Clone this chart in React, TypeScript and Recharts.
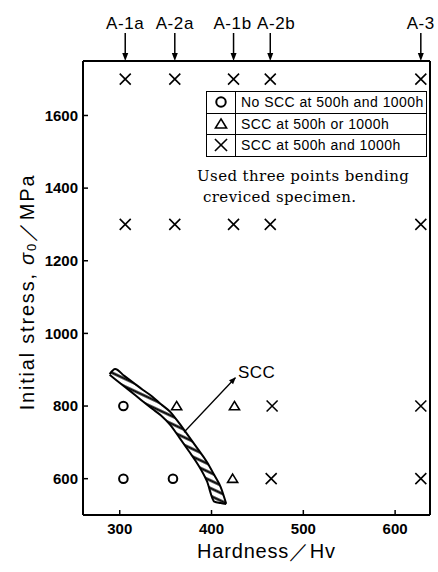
import React from "react";
import {
  ComposedChart,
  Area,
  Line,
  Scatter,
  XAxis,
  YAxis,
  Legend,
} from "recharts";

const W = 438;
const H = 572;
const INK = "#000";
const SANS = "'Liberation Sans', Arial, Helvetica, sans-serif";
const SERIF = "'DejaVu Serif', 'Liberation Serif', serif";

// specimens marked along the top edge
const SAMPLES = ["A-1a", "A-2a", "A-1b", "A-2b", "A-3"];
const SAMPLE_HV = [306, 360, 424, 464, 628];

const X_TICKS = [300, 400, 500, 600];
const Y_TICKS = [600, 800, 1000, 1200, 1400, 1600];
const X_DOMAIN = [260, 638];
const Y_DOMAIN = [500, 1750];

// test results: hardness (Hv) vs initial stress (MPa)
const NO_SCC = [
  { hv: 304, stress: 800 },
  { hv: 304, stress: 600 },
  { hv: 358, stress: 600 },
];
const SCC_ONE = [
  { hv: 362, stress: 800 },
  { hv: 425, stress: 800 },
  { hv: 423, stress: 600 },
];
const SCC_BOTH = [
  { hv: 306, stress: 1700 },
  { hv: 360, stress: 1700 },
  { hv: 424, stress: 1700 },
  { hv: 464, stress: 1700 },
  { hv: 628, stress: 1700 },
  { hv: 306, stress: 1300 },
  { hv: 360, stress: 1300 },
  { hv: 424, stress: 1300 },
  { hv: 464, stress: 1300 },
  { hv: 628, stress: 1300 },
  { hv: 466, stress: 800 },
  { hv: 628, stress: 800 },
  { hv: 465, stress: 600 },
  { hv: 628, stress: 600 },
];

// hatched SCC boundary band: lower / upper edge at each hardness
const BAND_HV = [289, 295, 305, 315, 325, 335, 345, 355, 365, 375, 385, 395, 403, 410, 416];
const BAND_LOW = [886, 874, 854, 834, 813, 793, 774, 748, 713, 677, 640, 593, 537, 533, 530];
const BAND_HIGH = [888, 902, 883, 864, 845, 827, 805, 784, 752, 717, 682, 646, 610, 577, 531];
const band = BAND_HV.map((hv, i) => ({ hv, band: [BAND_LOW[i], BAND_HIGH[i]] }));

const SCC_ARROW = [
  { hv: 370, stress: 728 },
  { hv: 426, stress: 878 },
];

const SERIES = [
  { name: "No SCC at 500h and 1000h", kind: "circle", data: NO_SCC },
  { name: "SCC at 500h or 1000h", kind: "triangle", data: SCC_ONE },
  { name: "SCC at 500h and 1000h", kind: "cross", data: SCC_BOTH },
];

function Marker({ kind, cx, cy, s = 1 }: { kind: string; cx: number; cy: number; s?: number }) {
  if (kind === "circle")
    return <circle cx={cx} cy={cy} r={4.3 * s} fill="#fff" stroke={INK} strokeWidth={2} />;
  if (kind === "triangle") {
    const h = 4.6 * s;
    return (
      <path
        d={`M${cx},${cy - h} L${cx + h * 1.1},${cy + h * 0.8} L${cx - h * 1.1},${cy + h * 0.8} Z`}
        fill="#fff"
        stroke={INK}
        strokeWidth={1.6}
      />
    );
  }
  const r = 5.5 * s;
  return (
    <path
      d={`M${cx - r},${cy - r} L${cx + r},${cy + r} M${cx + r},${cy - r} L${cx - r},${cy + r}`}
      stroke={INK}
      strokeWidth={1.6}
      fill="none"
    />
  );
}

function SampleTick({ x, y, payload }: any) {
  const i = SAMPLE_HV.indexOf(payload.value);
  const name = SAMPLES[i];
  // the A-2b caption sits a little right of its arrow in the original
  const dx = name === "A-2b" ? 6 : name === "A-1b" ? -1 : 0;
  return (
    <g>
      <text
        x={x + dx}
        y={y - 32}
        textAnchor="middle"
        fontSize={17}
        fontFamily={SANS}
        letterSpacing={0.6}
        fill={INK}
      >
        {name}
      </text>
      <line x1={x} y1={y - 28} x2={x} y2={y - 6} stroke={INK} strokeWidth={1.5} />
      <path d={`M${x - 3},${y - 8} L${x + 3},${y - 8} L${x},${y} Z`} fill={INK} />
    </g>
  );
}

function StressLabel({ viewBox }: any) {
  const vb = viewBox ?? { x: 0, y: 61, width: 83, height: 454 };
  const cx = vb.x + 27;
  const cy = vb.y + vb.height / 2 + 4;
  return (
    <text
      x={cx}
      y={cy}
      transform={`rotate(-90 ${cx} ${cy})`}
      textAnchor="middle"
      dominantBaseline="central"
      fontSize={20}
      fontFamily={SANS}
      letterSpacing={1.8}
      fill={INK}
    >
      Initial stress, <tspan fontStyle="italic">σ</tspan>
      <tspan dy={4} fontSize={13}>0</tspan>
      <tspan dy={-4}>／MPa</tspan>
    </text>
  );
}

function HardnessLabel({ viewBox }: any) {
  const vb = viewBox ?? { x: 83, y: 515, width: 347, height: 57 };
  return (
    <text
      x={vb.x + vb.width / 2 + 10}
      y={vb.y + 43}
      textAnchor="middle"
      fontSize={20}
      fontFamily={SANS}
      letterSpacing={0.8}
      fill={INK}
    >
      Hardness／Hv
    </text>
  );
}

function LegendBox({ payload }: any) {
  const rows = SERIES.filter((s) => (payload ?? []).some((p: any) => p.value === s.name));
  const list = rows.length ? rows : SERIES;
  return (
    <div
      style={{
        border: "1.5px solid #000",
        background: "#fff",
        fontFamily: SANS,
        fontSize: 14,
        color: INK,
        width: 219,
      }}
    >
      {list.map((s, i) => (
        <div
          key={s.name}
          style={{
            display: "flex",
            height: 20.5,
            borderTop: i ? "1px solid #000" : "none",
          }}
        >
          <div
            style={{
              width: 28,
              borderRight: "1px solid #000",
              display: "flex",
              alignItems: "center",
              justifyContent: "center",
            }}
          >
            <svg width={16} height={16}>
              <Marker kind={s.kind} cx={8} cy={8} s={1.1} />
            </svg>
          </div>
          <div style={{ paddingLeft: 5, lineHeight: "20.5px", letterSpacing: 0.45, whiteSpace: "nowrap" }}>
            {s.name}
          </div>
        </div>
      ))}
    </div>
  );
}

const axisLine = { stroke: INK, strokeWidth: 2 };
const tickLine = { stroke: INK, strokeWidth: 1.5 };
const tickFont = { fill: INK, fontSize: 15, fontWeight: 700, fontFamily: SANS };

export default function App() {
  return (
    <div style={{ position: "absolute", left: 0, top: 0, width: W, height: H, background: "#fff" }}>
      <ComposedChart
        width={W}
        height={H}
        data={band}
        margin={{ top: 0, right: 0, bottom: 0, left: 0 }}
      >
        <defs>
          <pattern
            id="hatch"
            patternUnits="userSpaceOnUse"
            width={7}
            height={7}
            patternTransform="rotate(25)"
          >
            <rect width={7} height={7} fill="#fff" />
            <line x1={0} y1={3.5} x2={7} y2={3.5} stroke={INK} strokeWidth={2.4} />
          </pattern>
          <marker
            id="arrowhead"
            viewBox="0 0 10 10"
            refX={9}
            refY={5}
            markerWidth={7}
            markerHeight={7}
            markerUnits="userSpaceOnUse"
            orient="auto"
          >
            <path d="M0,1 L10,5 L0,9 Z" fill={INK} />
          </marker>
        </defs>
        <XAxis
          dataKey="hv"
          type="number"
          domain={X_DOMAIN}
          allowDataOverflow
          ticks={X_TICKS}
          height={57}
          axisLine={axisLine}
          tickLine={tickLine}
          tickSize={-5}
          tickMargin={13}
          tick={tickFont}
          label={(p: any) => <HardnessLabel {...p} />}
        />
        <XAxis
          xAxisId="top"
          orientation="top"
          dataKey="hv"
          type="number"
          domain={X_DOMAIN}
          allowDataOverflow
          ticks={SAMPLE_HV}
          interval={0}
          height={61}
          axisLine={axisLine}
          tickLine={false}
          tickSize={0}
          tickMargin={0}
          tick={<SampleTick />}
        />
        <YAxis
          dataKey="stress"
          type="number"
          domain={Y_DOMAIN}
          allowDataOverflow
          ticks={Y_TICKS}
          width={83}
          axisLine={axisLine}
          tickLine={tickLine}
          tickSize={-5}
          tickMargin={10}
          tick={tickFont}
          label={(p: any) => <StressLabel {...p} />}
        />
        <YAxis
          yAxisId="right"
          orientation="right"
          dataKey="stress"
          type="number"
          domain={Y_DOMAIN}
          allowDataOverflow
          width={8}
          axisLine={axisLine}
          tick={false}
          tickLine={false}
        />
        <Legend
          layout="horizontal"
          verticalAlign="middle"
          align="center"
          content={(p: any) => <LegendBox {...p} />}
          wrapperStyle={{ top: 91, left: 206, width: "auto", height: "auto" }}
        />
        <Area
          dataKey="band"
          type="monotone"
          stroke={INK}
          strokeWidth={2}
          fill="url(#hatch)"
          fillOpacity={1}
          dot={false}
          activeDot={false}
          legendType="none"
          isAnimationActive={false}
        />
        <Line
          data={SCC_ARROW}
          dataKey="stress"
          type="linear"
          stroke={INK}
          strokeWidth={1.3}
          dot={false}
          activeDot={false}
          markerEnd="url(#arrowhead)"
          legendType="none"
          isAnimationActive={false}
        />
        {SERIES.map((s) => (
          <Scatter
            key={s.name}
            name={s.name}
            data={s.data}
            dataKey="stress"
            shape={(p: any) => <Marker kind={s.kind} cx={p.cx} cy={p.cy} />}
            isAnimationActive={false}
          />
        ))}
      </ComposedChart>
      <div
        style={{
          position: "absolute",
          left: 238,
          top: 363,
          fontFamily: SANS,
          fontSize: 17,
          lineHeight: "20px",
          letterSpacing: 0.5,
          color: INK,
        }}
      >
        SCC
      </div>
      <div
        style={{
          position: "absolute",
          left: 197,
          top: 166,
          fontFamily: SERIF,
          fontSize: 15,
          lineHeight: "21px",
          letterSpacing: 0.4,
          color: INK,
          whiteSpace: "nowrap",
        }}
      >
        <div>Used three points bending</div>
        <div style={{ paddingLeft: 6 }}>creviced specimen.</div>
      </div>
    </div>
  );
}
